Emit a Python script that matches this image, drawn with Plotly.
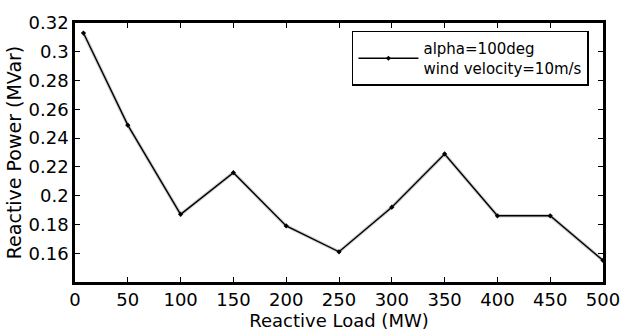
import plotly.graph_objects as go

# Reactive power delivered versus reactive load
load_mw = [8, 50, 100, 150, 200, 250, 300, 350, 400, 450, 500]
reactive_power = [0.313, 0.249, 0.187, 0.216, 0.179, 0.161, 0.192, 0.229, 0.186, 0.186, 0.155]

x_ticks = [0, 50, 100, 150, 200, 250, 300, 350, 400, 450, 500]
y_ticks = [0.16, 0.18, 0.2, 0.22, 0.24, 0.26, 0.28, 0.3, 0.32]
y_tick_text = ["0.16", "0.18", "0.2", "0.22", "0.24", "0.26", "0.28", "0.3", "0.32"]

FONT = "DejaVu Sans"

fig = go.Figure()

# faint grey halo under the curve
fig.add_trace(go.Scatter(
    x=load_mw, y=reactive_power, mode="lines",
    line=dict(color="rgba(150,150,150,0.45)", width=3.5),
    hoverinfo="skip", showlegend=False,
))
fig.add_trace(go.Scatter(
    x=load_mw, y=reactive_power, mode="lines+markers",
    name="alpha=100deg<br>wind velocity=10m/s",
    line=dict(color="black", width=1.4),
    marker=dict(color="black", size=4, symbol="diamond"),
))

axis_common = dict(
    showline=True, linecolor="black", linewidth=2.5, mirror="ticks",
    ticks="inside", ticklen=5, tickcolor="black", tickwidth=1,
    showgrid=False, zeroline=False,
    tickfont=dict(family=FONT, size=18, color="black"),
)

fig.update_layout(
    width=632, height=336,
    margin=dict(l=75, r=20, t=15, b=54),
    paper_bgcolor="white", plot_bgcolor="white",
    xaxis=dict(
        range=[0, 500], tickvals=x_ticks,
        title=dict(text="Reactive Load (MW)", standoff=0,
                   font=dict(family=FONT, size=18, color="black")),
        **axis_common,
    ),
    yaxis=dict(
        range=[0.14, 0.32], tickvals=y_ticks, ticktext=y_tick_text,
        title=dict(text="Reactive Power (MVar)", standoff=2,
                   font=dict(family=FONT, size=19, color="black")),
        **axis_common,
    ),
    legend=dict(
        x=0.5245, y=0.97, xanchor="left", yanchor="top",
        bgcolor="white", bordercolor="black", borderwidth=1.5,
        font=dict(family=FONT, size=15, color="black"),
        tracegroupgap=0, itemwidth=60,
    ),
)

fig.write_html("out.html")
